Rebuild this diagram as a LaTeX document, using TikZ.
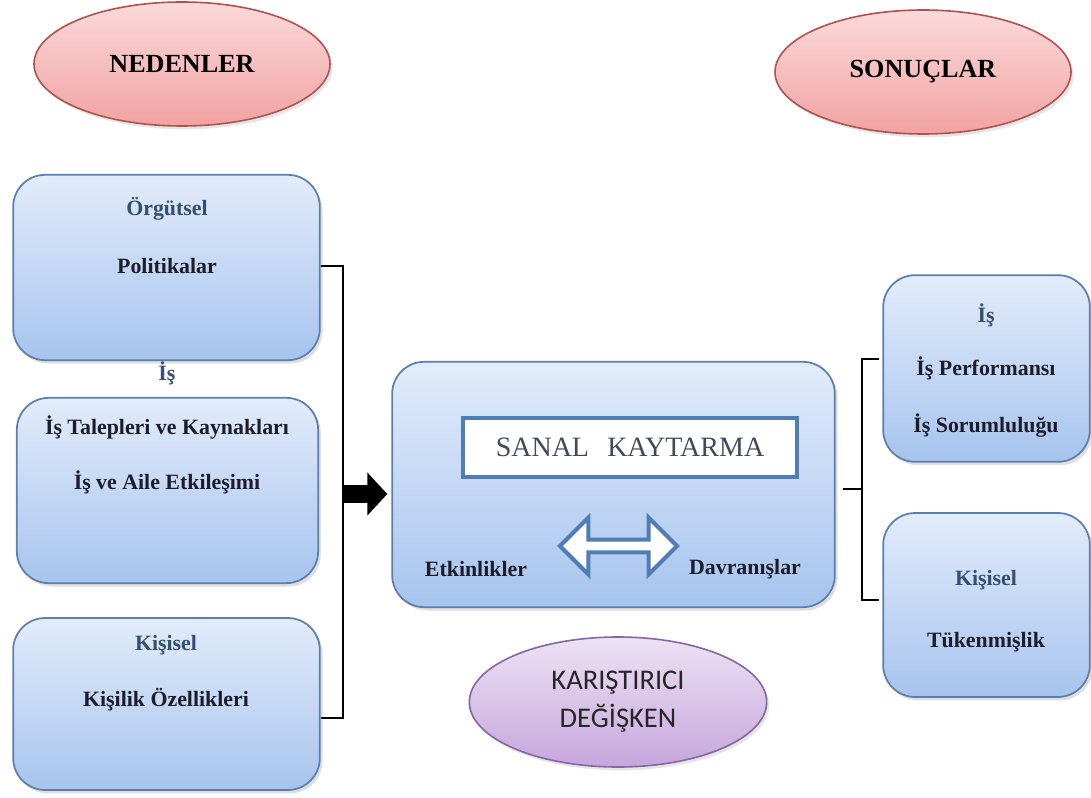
\documentclass[tikz,border=0pt]{standalone}
\usepackage{fontspec}
\setmainfont{Liberation Serif}
\newfontfamily\calib{Carlito}
\usetikzlibrary{calc,positioning,arrows.meta,shapes.geometric,shapes.arrows,shadows}

\definecolor{boxtop}{HTML}{E2ECFB}
\definecolor{boxbot}{HTML}{A7C4EE}
\definecolor{boxedge}{HTML}{5A7FAE}
\definecolor{redtop}{HTML}{FBDADA}
\definecolor{redbot}{HTML}{F2A2A2}
\definecolor{rededge}{HTML}{B0524E}
\definecolor{purtop}{HTML}{EDE2F5}
\definecolor{purbot}{HTML}{C6A6DC}
\definecolor{puredge}{HTML}{8466A6}
\definecolor{headtext}{HTML}{34506E}
\definecolor{bodytext}{HTML}{1C1C2A}
\definecolor{sktext}{HTML}{404A5A}
\definecolor{skedge}{HTML}{4F7DB8}

\begin{document}
\begin{tikzpicture}
      [
        x=0.75pt, y=-0.75pt,
        cbox/.style={draw=boxedge, line width=1.3pt, rounded corners=24pt,
          top color=boxtop, bottom color=boxbot,
          drop shadow={shadow xshift=2pt, shadow yshift=-2.5pt, opacity=0.25}},
        redell/.style={ellipse, draw=rededge, line width=1.2pt,
          top color=redtop, bottom color=redbot,
          minimum width=222pt, minimum height=93pt,
          drop shadow={shadow xshift=2pt, shadow yshift=-2.5pt, opacity=0.2}},
        head/.style={text=headtext, font=\fontsize{16.4}{19}\selectfont\bfseries},
        body/.style={text=bodytext, font=\fontsize{16.4}{19}\selectfont\bfseries},
        bracket/.style={draw=black, line width=1.5pt},
        bigarrow/.style={draw=black, line width=13.5pt,
          -{Triangle[length=15pt, width=31.5pt]}}
      ]
      \useasboundingbox (0,0) rectangle (1091,798);

      \node[redell] (ned) at (182,64)
        {\fontsize{19.6}{22}\selectfont\bfseries NEDENLER};
      \node[redell] (son) at (923,72)
        {\fontsize{19.6}{22}\selectfont\bfseries SONUÇLAR};

      \node[cbox, minimum width=230pt, minimum height=139pt] (org) at (166.5,267.5) {};
      \node[head] (orgt) at (167,209) {Örgütsel};
      \node[body] (pol) at (167,266) {Politikalar};
      \node[head] (ist) at (167,373) {İş};

      \node[cbox, minimum width=226pt, minimum height=139pt] (is) at (167.5,490.5) {};
      \node[body] (tal) at (167,427) {İş Talepleri ve Kaynakları};
      \node[body] (aile) at (167,482) {İş ve Aile Etkileşimi};

      \node[cbox, minimum width=230pt, minimum height=129pt] (kis) at (166.5,704) {};
      \node[head] (kist) at (166,645) {Kişisel};
      \node[body] (ozl) at (166,700) {Kişilik Özellikleri};

      \node[cbox, minimum width=332pt, minimum height=184pt] (sk) at (613.5,484.5) {};
      \node[draw=skedge, line width=3pt, fill=white, minimum width=250pt,
        minimum height=44pt, text=sktext, font=\fontsize{21}{24}\selectfont]
        (skbox) at (630,447.5) {SANAL\hspace{0.4em} KAYTARMA};
      \node[double arrow, draw=skedge, line width=3pt, fill=white,
        minimum width=28.5pt, double arrow head extend=16.5pt,
        minimum height=87.75pt] (dbl) at (618.5,546) {};
      \node[body] (etk) at (476,569) {Etkinlikler};
      \node[body] (dav) at (745,569) {Davranışlar};

      \node[cbox, minimum width=155pt, minimum height=140pt] (sis) at (986.5,368.5) {};
      \node[head] (sist) at (986,315) {İş};
      \node[body] (perf) at (986,368) {İş Performansı};
      \node[body] (sor) at (986,426) {İş Sorumluluğu};

      \node[cbox, minimum width=155pt, minimum height=138pt] (skis) at (986.5,605) {};
      \node[head] (skist) at (986,580) {Kişisel};
      \node[body] (tuk) at (986,642) {Tükenmişlik};

      \node[ellipse, draw=puredge, line width=1.2pt, top color=purtop, bottom color=purbot,
        drop shadow={shadow xshift=2pt, shadow yshift=-2.5pt, opacity=0.2},
        minimum width=223pt, minimum height=97.5pt, align=center,
        font=\calib\fontsize{21.4}{28.5}\selectfont, text=black!85]
        (kar) at (618,702) {KARIŞTIRICI\\DEĞİŞKEN};

      % sol ayraç
      \coordinate (b1) at (343,266);
      \coordinate (b2) at (343,718);
      \coordinate (barr) at (343,494);
      \draw[bracket] (org.east |- b1) -- (b1) -- (b2) -- (kis.east |- b2);
      \draw[bigarrow] (barr) -- ($(barr -| sk.west)+(-4,0)$);

      % sağ ayraç
      \coordinate (c0) at (843,489);
      \coordinate (c1) at (862,359);
      \coordinate (c2) at (862,600);
      \draw[bracket] (c0) -- (c0 -| c1);
      \draw[bracket] ($(sis.west |- c1)+(-3,0)$) -- (c1) -- (c2) -- ($(skis.west |- c2)+(-3,0)$);

    \end{tikzpicture}
\end{document}
